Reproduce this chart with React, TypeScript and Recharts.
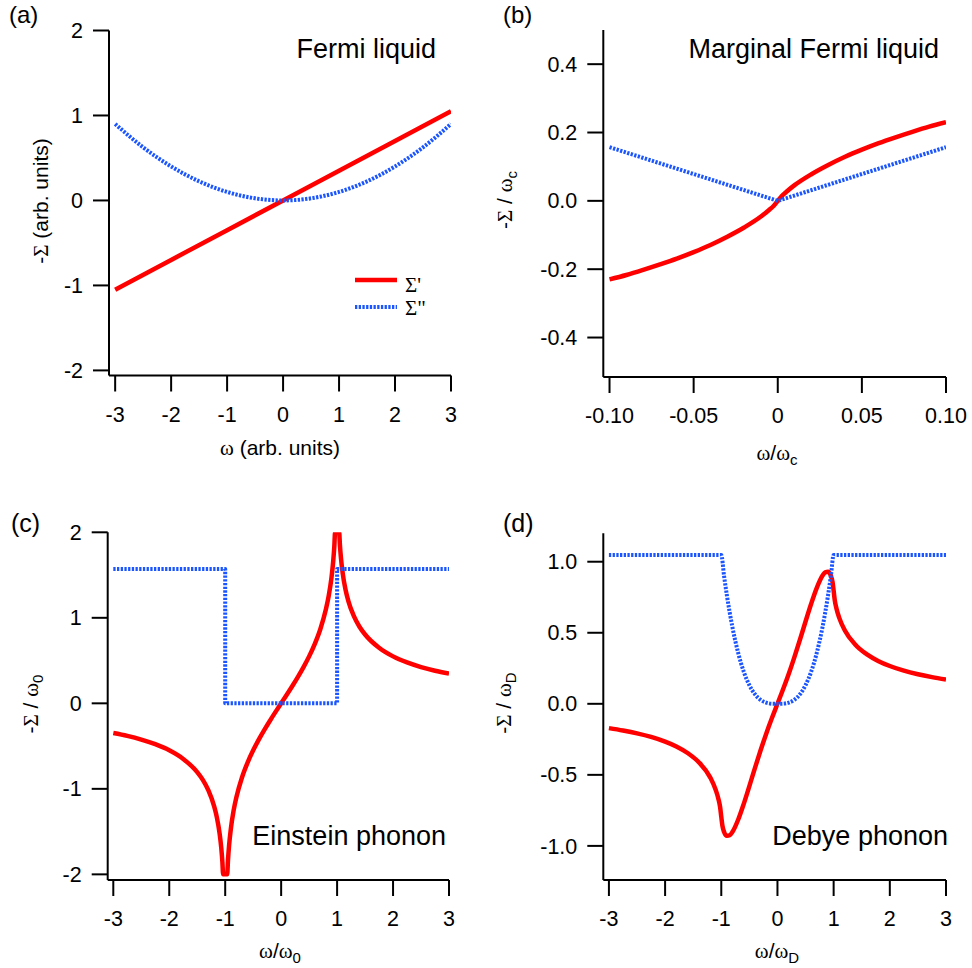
import React from 'react';
import { LineChart, Line, XAxis, YAxis, Customized, Legend } from 'recharts';

const SANS = '"Liberation Sans", Arial, Helvetica, sans-serif';
const SERIF = '"Liberation Serif", "Times New Roman", serif';
const RED = '#ff0000';
const BLUE = '#1a55ff';
const DASH = '2.3 1.4';

// ---------- Panel (a): Fermi liquid ----------
const flOmega = [-3, -2, -1, 0, 1, 2, 3];
const flReal = [-1.05, -0.7, -0.35, 0, 0.35, 0.7, 1.05];
const flImagOmega = [-3, -2.5, -2, -1.5, -1, -0.5, 0, 0.5, 1, 1.5, 2, 2.5, 3];
const flImag = [0.9, 0.625, 0.4, 0.225, 0.1, 0.025, 0, 0.025, 0.1, 0.225, 0.4, 0.625, 0.9];
const aXTicks = [-3, -2, -1, 0, 1, 2, 3];
const aXLabels = ['-3', '-2', '-1', '0', '1', '2', '3'];
const aYTicks = [-2, -1, 0, 1, 2];
const aYLabels = ['-2', '-1', '0', '1', '2'];

// ---------- Panel (b): Marginal Fermi liquid ----------
const mflOmega = [-0.1, -0.09, -0.08, -0.07, -0.06, -0.05, -0.04, -0.03, -0.02, -0.01, -0.005, -0.0025, 0, 0.0025, 0.005, 0.01, 0.02, 0.03, 0.04, 0.05, 0.06, 0.07, 0.08, 0.09, 0.1];
const mflReal = [-0.23, -0.217, -0.202, -0.186, -0.169, -0.15, -0.129, -0.105, -0.078, -0.046, -0.026, -0.015, 0, 0.015, 0.026, 0.046, 0.078, 0.105, 0.129, 0.15, 0.169, 0.186, 0.202, 0.217, 0.23];
const mflImagOmega = [-0.1, -0.05, 0, 0.05, 0.1];
const mflImag = [0.157, 0.0785, 0, 0.0785, 0.157];
const bXTicks = [-0.1, -0.05, 0, 0.05, 0.1];
const bXLabels = ['-0.10', '-0.05', '0', '0.05', '0.10'];
const bYTicks = [-0.4, -0.2, 0, 0.2, 0.4];
const bYLabels = ['-0.4', '-0.2', '0.0', '0.2', '0.4'];

// ---------- Panel (c): Einstein phonon ----------
const einOmega = [-3, -2.75, -2.5, -2.25, -2, -1.75, -1.5, -1.4, -1.3, -1.2, -1.15, -1.1, -1.07, -1.05, -1.037, -0.964, -0.95, -0.93, -0.9, -0.85, -0.8, -0.7, -0.6, -0.5, -0.4, -0.3, -0.2, -0.1, 0, 0.1, 0.2, 0.3, 0.4, 0.5, 0.6, 0.7, 0.8, 0.85, 0.9, 0.93, 0.95, 0.964, 1.037, 1.05, 1.07, 1.1, 1.15, 1.2, 1.3, 1.4, 1.5, 1.75, 2, 2.25, 2.5, 2.75, 3];
const einReal = [-0.347, -0.381, -0.424, -0.478, -0.549, -0.65, -0.805, -0.896, -1.019, -1.199, -1.331, -1.522, -1.693, -1.857, -2.0, -2.0, -1.832, -1.658, -1.472, -1.256, -1.099, -0.867, -0.693, -0.549, -0.424, -0.31, -0.203, -0.1, 0, 0.1, 0.203, 0.31, 0.424, 0.549, 0.693, 0.867, 1.099, 1.256, 1.472, 1.658, 1.832, 2.0, 2.0, 1.857, 1.693, 1.522, 1.331, 1.199, 1.019, 0.896, 0.805, 0.65, 0.549, 0.478, 0.424, 0.381, 0.347];
const einImagOmega = [-3, -1, -1, 1, 1, 3];
const einImag = [1.57, 1.57, 0, 0, 1.57, 1.57];
const cXTicks = [-3, -2, -1, 0, 1, 2, 3];
const cXLabels = ['-3', '-2', '-1', '0', '1', '2', '3'];
const cYTicks = [-2, -1, 0, 1, 2];
const cYLabels = ['-2', '-1', '0', '1', '2'];

// ---------- Panel (d): Debye phonon ----------
const debOmega = [-3, -2.75, -2.5, -2.25, -2, -1.8, -1.6, -1.4, -1.2, -1.1, -1.05, -1.02, -1, -0.98, -0.95, -0.9, -0.85, -0.8, -0.7, -0.6, -0.5, -0.4, -0.3, -0.2, -0.1, 0, 0.1, 0.2, 0.3, 0.4, 0.5, 0.6, 0.7, 0.8, 0.85, 0.9, 0.95, 0.98, 1, 1.02, 1.05, 1.1, 1.2, 1.4, 1.6, 1.8, 2, 2.25, 2.5, 2.75, 3];
const debReal = [-0.171, -0.188, -0.208, -0.233, -0.266, -0.3, -0.346, -0.411, -0.516, -0.605, -0.671, -0.729, -0.795, -0.858, -0.902, -0.929, -0.925, -0.901, -0.816, -0.704, -0.579, -0.451, -0.327, -0.21, -0.102, 0, 0.102, 0.21, 0.327, 0.451, 0.579, 0.704, 0.816, 0.901, 0.925, 0.929, 0.902, 0.858, 0.795, 0.729, 0.671, 0.605, 0.516, 0.411, 0.346, 0.3, 0.266, 0.233, 0.208, 0.188, 0.171];
const debImagOmega = [-3, -1, -0.95, -0.9, -0.8, -0.7, -0.6, -0.5, -0.4, -0.3, -0.2, -0.1, 0, 0.1, 0.2, 0.3, 0.4, 0.5, 0.6, 0.7, 0.8, 0.9, 0.95, 1, 3];
const debImag = [1.047, 1.047, 0.898, 0.763, 0.536, 0.359, 0.226, 0.131, 0.067, 0.028, 0.008, 0.001, 0, 0.001, 0.008, 0.028, 0.067, 0.131, 0.226, 0.359, 0.536, 0.763, 0.898, 1.047, 1.047];
const dXTicks = [-3, -2, -1, 0, 1, 2, 3];
const dXLabels = ['-3', '-2', '-1', '0', '1', '2', '3'];
const dYTicks = [-1, -0.5, 0, 0.5, 1];
const dYLabels = ['-1.0', '-0.5', '0.0', '0.5', '1.0'];

const legendLabels = ["Σ'", 'Σ"'];

const zip = (xs: number[], ys: number[]) => xs.map((x, i) => ({ x, y: ys[i] }));

const W = 486;
const H = 484;
const YW = 60;
const XH = 60;

type Series = { data: { x: number; y: number }[]; kind: 'real' | 'imag'; curve: 'linear' | 'monotone'; name: string };

const lookup = (ticks: number[], labels: string[]) => (v: number) => {
  const i = ticks.findIndex((t) => Math.abs(t - v) < 1e-9);
  return i >= 0 ? labels[i] : String(v);
};

function OmegaRatio({ x, y, sub }: { x: number; y: number; sub: string }) {
  return (
    <text x={x} y={y} textAnchor="middle" fontSize={21} fill="#000">
      <tspan fontFamily={SERIF}>ω</tspan>
      <tspan fontFamily={SANS}>/</tspan>
      <tspan fontFamily={SERIF}>ω</tspan>
      <tspan fontFamily={SANS} fontSize={15} dy={5}>{sub}</tspan>
    </text>
  );
}

function SigmaOver({ x, y, sub }: { x: number; y: number; sub: string }) {
  return (
    <text x={x} y={y} textAnchor="middle" fontSize={21} fill="#000" transform={`rotate(-90, ${x}, ${y})`}>
      <tspan fontFamily={SANS}>-</tspan>
      <tspan fontFamily={SERIF}>Σ</tspan>
      <tspan fontFamily={SANS}> / </tspan>
      <tspan fontFamily={SERIF}>ω</tspan>
      <tspan fontFamily={SANS} fontSize={15} dy={5}>{sub}</tspan>
    </text>
  );
}

function Panel(props: {
  ox: number; oy: number; L: number; T: number; R: number; B: number;
  xDomain: [number, number]; yDomain: [number, number];
  xTicks: number[]; xLabels: string[]; yTicks: number[]; yLabels: string[];
  series: Series[]; decorations: React.ReactNode; legend?: boolean;
}) {
  const { ox, oy, L, T, R, B, xDomain, yDomain, xTicks, xLabels, yTicks, yLabels, series, decorations, legend } = props;
  const margin = { left: L - YW, top: T, right: W - R, bottom: H - B - XH };
  const axisStyle = { stroke: '#000', strokeWidth: 2 };
  const tickStyle = { fill: '#000', fontSize: 21.5, fontFamily: SANS };
  return (
    <div style={{ position: 'absolute', left: ox, top: oy, width: W, height: H }}>
      <LineChart width={W} height={H} margin={margin}>
        <XAxis
          type="number"
          dataKey="x"
          domain={xDomain}
          ticks={xTicks}
          interval={0}
          allowDataOverflow
          height={XH}
          tickFormatter={lookup(xTicks, xLabels)}
          tickSize={16}
          tickMargin={15}
          axisLine={axisStyle}
          tickLine={axisStyle}
          tick={tickStyle}
        />
        <YAxis
          type="number"
          domain={yDomain}
          ticks={yTicks}
          interval={0}
          allowDataOverflow
          width={YW}
          tickFormatter={lookup(yTicks, yLabels)}
          tickSize={16}
          tickMargin={10}
          axisLine={axisStyle}
          tickLine={axisStyle}
          tick={tickStyle}
        />
        {series.map((s) => (
          <Line
            key={s.name}
            name={s.name}
            data={s.data}
            dataKey="y"
            type={s.curve}
            stroke={s.kind === 'real' ? RED : BLUE}
            strokeWidth={s.kind === 'real' ? 4.5 : 4}
            strokeDasharray={s.kind === 'real' ? undefined : DASH}
            strokeLinejoin="round"
            dot={false}
            activeDot={false}
            isAnimationActive={false}
          />
        ))}
        {legend && (
          <Legend
            layout="horizontal"
            verticalAlign="middle"
            align="center"
            wrapperStyle={{ left: 350, top: 264, width: 110, height: 60 }}
            content={() => (
              <svg width={110} height={60}>
                <line x1={5} y1={16} x2={47} y2={16} stroke={RED} strokeWidth={4.5} />
                <text x={55} y={28} fontFamily={SERIF} fontSize={21} fill="#000">{legendLabels[0]}</text>
                <line x1={5} y1={43} x2={47} y2={43} stroke={BLUE} strokeWidth={4} strokeDasharray={DASH} />
                <text x={55} y={51} fontFamily={SERIF} fontSize={21} fill="#000">{legendLabels[1]}</text>
              </svg>
            )}
          />
        )}
        <Customized component={() => <g>{decorations}</g>} />
      </LineChart>
    </div>
  );
}

export default function App() {
  return (
    <div style={{ position: 'absolute', left: 0, top: 0, width: 972, height: 968, background: '#fff' }}>
      <Panel
        ox={0} oy={0} L={109} T={30.5} R={451} B={375.5}
        xDomain={[-3.11, 3]} yDomain={[-2.06, 2]}
        xTicks={aXTicks} xLabels={aXLabels} yTicks={aYTicks} yLabels={aYLabels}
        legend
        series={[
          { name: "Σ'", kind: 'real', curve: 'linear', data: zip(flOmega, flReal) },
          { name: 'Σ"', kind: 'imag', curve: 'monotone', data: zip(flImagOmega, flImag) },
        ]}
        decorations={
          <>
            <text x={9} y={23} fontFamily={SANS} fontSize={24} fill="#000">(a)</text>
            <text x={436} y={58} textAnchor="end" fontFamily={SANS} fontSize={27} fill="#000">Fermi liquid</text>
            <text x={280} y={455} textAnchor="middle" fontSize={21} fill="#000">
              <tspan fontFamily={SERIF}>ω</tspan>
              <tspan fontFamily={SANS}> (arb. units)</tspan>
            </text>
            <text x={48} y={201} textAnchor="middle" fontSize={21} fill="#000" transform="rotate(-90, 48, 201)">
              <tspan fontFamily={SANS}>-</tspan>
              <tspan fontFamily={SERIF}>Σ</tspan>
              <tspan fontFamily={SANS}> (arb. units)</tspan>
            </text>
          </>
        }
      />
      <Panel
        ox={486} oy={0} L={117.3} T={30} R={460} B={377}
        xDomain={[-0.1037, 0.1]} yDomain={[-0.5155, 0.5]}
        xTicks={bXTicks} xLabels={bXLabels} yTicks={bYTicks} yLabels={bYLabels}
        series={[
          { name: "Σ'", kind: 'real', curve: 'monotone', data: zip(mflOmega, mflReal) },
          { name: 'Σ"', kind: 'imag', curve: 'linear', data: zip(mflImagOmega, mflImag) },
        ]}
        decorations={
          <>
            <text x={17} y={23} fontFamily={SANS} fontSize={24} fill="#000">(b)</text>
            <text x={453} y={58} textAnchor="end" fontFamily={SANS} fontSize={27} fill="#000">Marginal Fermi liquid</text>
            <OmegaRatio x={291} y={460} sub="c" />
            <SigmaOver x={26} y={200} sub="c" />
          </>
        }
      />
      <Panel
        ox={0} oy={484} L={107.7} T={48.3} R={449} B={396}
        xDomain={[-3.1, 3]} yDomain={[-2.066, 2]}
        xTicks={cXTicks} xLabels={cXLabels} yTicks={cYTicks} yLabels={cYLabels}
        series={[
          { name: "Σ'", kind: 'real', curve: 'monotone', data: zip(einOmega, einReal) },
          { name: 'Σ"', kind: 'imag', curve: 'linear', data: zip(einImagOmega, einImag) },
        ]}
        decorations={
          <>
            <text x={11} y={48} fontFamily={SANS} fontSize={25} fill="#000">(c)</text>
            <text x={446} y={361} textAnchor="end" fontFamily={SANS} fontSize={27} fill="#000">Einstein phonon</text>
            <OmegaRatio x={280} y={474} sub="0" />
            <SigmaOver x={38} y={220} sub="0" />
          </>
        }
      />
      <Panel
        ox={486} oy={484} L={117.3} T={49.3} R={460} B={396}
        xDomain={[-3.1, 3]} yDomain={[-1.24, 1.2]}
        xTicks={dXTicks} xLabels={dXLabels} yTicks={dYTicks} yLabels={dYLabels}
        series={[
          { name: "Σ'", kind: 'real', curve: 'monotone', data: zip(debOmega, debReal) },
          { name: 'Σ"', kind: 'imag', curve: 'monotone', data: zip(debImagOmega, debImag) },
        ]}
        decorations={
          <>
            <text x={17} y={48} fontFamily={SANS} fontSize={25} fill="#000">(d)</text>
            <text x={462} y={361} textAnchor="end" fontFamily={SANS} fontSize={27} fill="#000">Debye phonon</text>
            <OmegaRatio x={291} y={474} sub="D" />
            <SigmaOver x={25} y={219} sub="D" />
          </>
        }
      />
    </div>
  );
}
